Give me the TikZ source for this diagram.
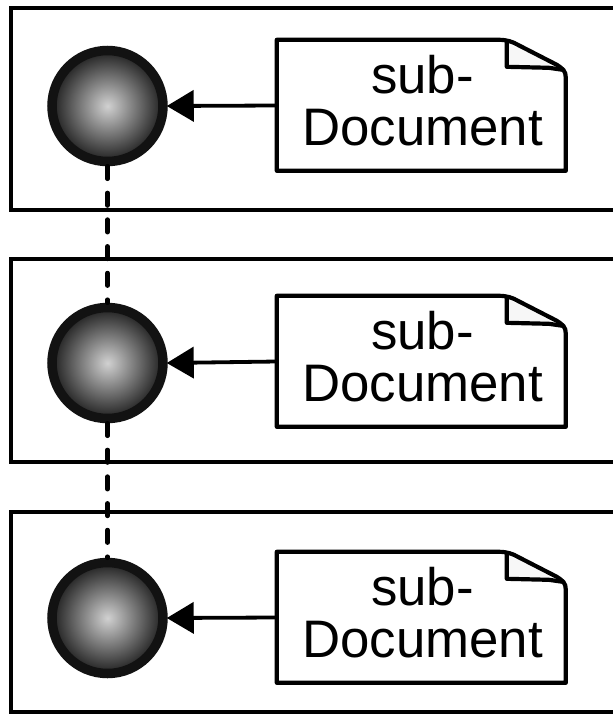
\documentclass[tikz,border=0pt]{standalone}
\usepackage{fontspec}
\setmainfont{Liberation Sans}
\usetikzlibrary{arrows.meta}
\tikzset{
  x=1pt,y=-1pt,
  frameline/.style={draw=black,line width=4pt,line join=miter},
  ball/.style={circle,draw=black!93,line width=9.5pt,minimum size=111pt,inner sep=0pt,inner color=black!18,outer color=black!88},
  docbox/.style={draw=none,minimum width=289pt,minimum height=131pt,inner sep=0pt},
  doctext/.style={inner sep=0pt,align=center,font=\fontsize{52.8pt}{52pt}\selectfont},
  docline/.style={draw=black,line width=4.2pt,line join=round},
  arrowline/.style={draw=black,line width=3.8pt,-{Triangle[length=27pt,width=31pt]},shorten >=-1pt},
  linkline/.style={draw=black,line width=4.6pt,line cap=round,dash pattern=on 12.5pt off 14.2pt}
}
\newcommand{\subdoc}[2]{%
  \node[docbox] (#1) at (421.5,#2) {};
  \node[doctext] (#1t) at (422.5,#2-4.5) {sub-\\Document};
  \begin{scope}[shift={(#1.north west)}]
    \fill[black!3] (230,3) -- (230,28) -- (287,30) -- cycle;
    \draw[docline] (0,0) -- (222,0) .. controls (230,0) and (236,2) .. (241,5) -- (280,25) .. controls (286,29) and (289,31) .. (289,38) -- (289,131) -- (0,131) -- cycle;
    \draw[docline] (230,2) .. controls (230,8) and (230,14) .. (230,27) -- (272,28) -- (286,30);
  \end{scope}}
\begin{document}
\begin{tikzpicture}
\useasboundingbox (0,0) rectangle (613,715);
\clip (0,0) rectangle (613,715);
\fill[white] (0,0) rectangle (613,715);
\draw[frameline] (625,8) -- (11,8) -- (11,210) -- (625,210);
\draw[frameline] (625,259) -- (11,259) -- (11,462) -- (625,462);
\draw[frameline] (625,512) -- (11,512) -- (11,712) -- (625,712);
\node[ball] (c1) at (107.5,106) {};
\node[ball] (c2) at (107.5,363) {};
\node[ball] (c3) at (107.5,618) {};
\subdoc{d1}{105.5}
\subdoc{d2}{361.5}
\subdoc{d3}{617.5}
\draw[linkline] (c1.south) -- (c2.north);
\draw[linkline] (c2.south) -- (c3.north);
\draw[arrowline] (d1.west) -- (c1.east);
\draw[arrowline] (d2.west) -- (c2.east);
\draw[arrowline] (d3.west) -- (c3.east);
\end{tikzpicture}
\end{document}
